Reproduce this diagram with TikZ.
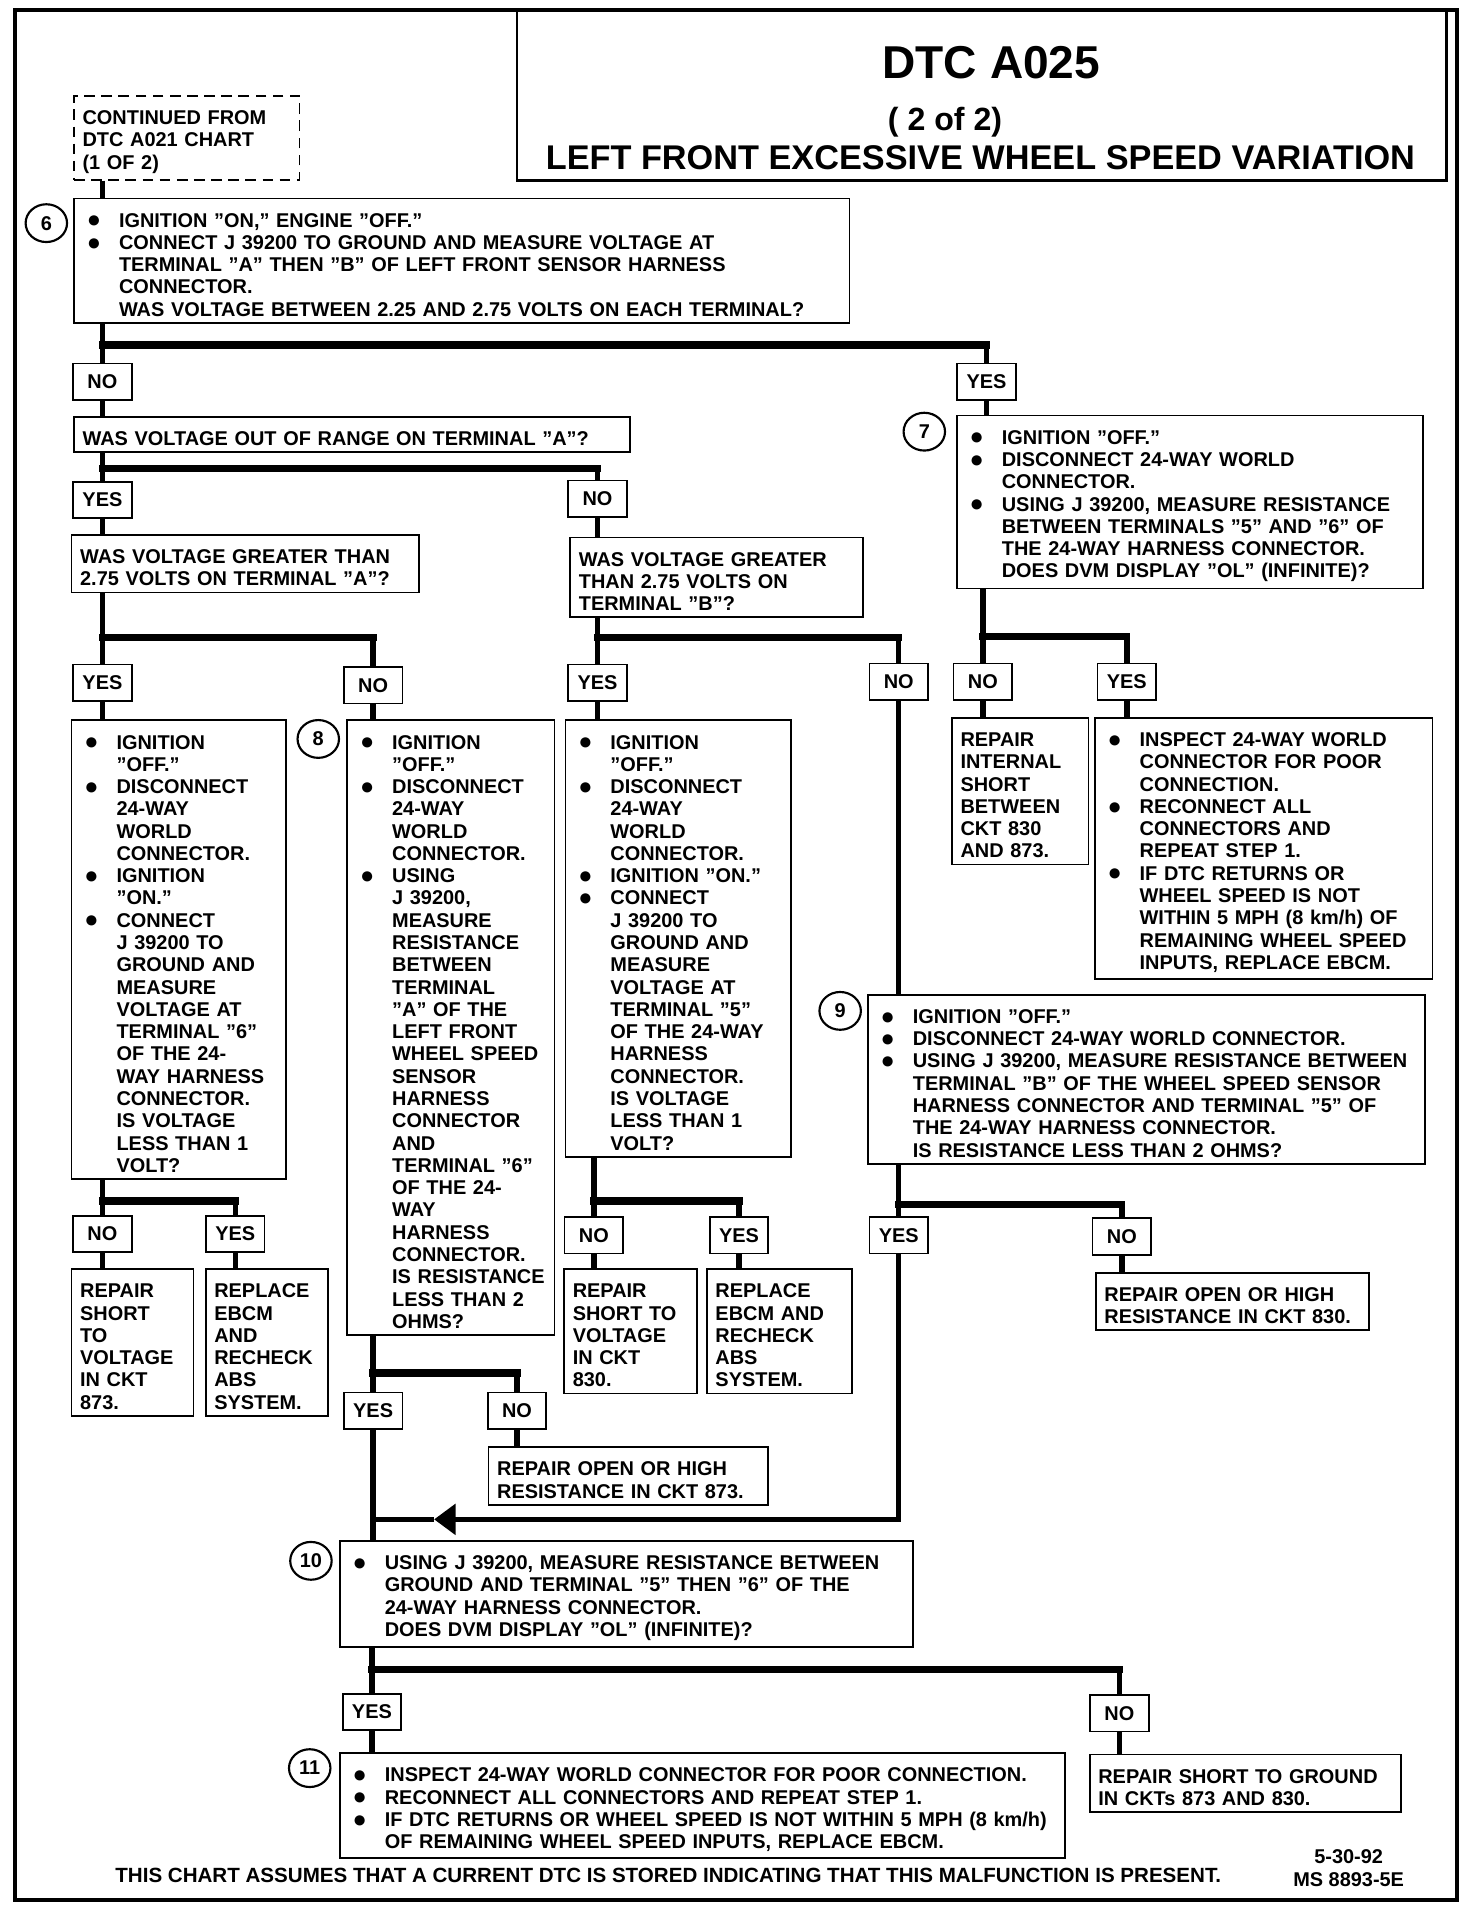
\documentclass[tikz,border=0pt]{standalone}
\usepackage{fontspec}
\setmainfont{Liberation Sans}
\usetikzlibrary{arrows.meta,shapes.geometric}

\newcommand{\chartfont}{\fontsize{9.3}{10.4}\selectfont\bfseries}
\newlength{\bind}
\setlength{\bind}{17pt}
\newcommand{\bulletmark}{\raisebox{-0.3pt}{\fontsize{11}{8}\selectfont ●}}
\newcommand{\bl}[1]{\par\noindent\hbox to\bind{\hskip2pt\bulletmark\hfil}\mbox{#1}}
\newcommand{\ct}[1]{\par\noindent\hskip\bind\mbox{#1}}
\newcommand{\pline}[1]{\par\noindent\mbox{#1}}

\tikzset{
  box/.style={draw, line width=0.8pt, anchor=north west, inner xsep=4pt, inner ysep=3pt, text width=#1, align=left, font=\chartfont},
  answer/.style={draw, line width=0.8pt, font=\chartfont, minimum height=0.6cm, minimum width=0.96cm, inner sep=0pt},
  stepno/.style={ellipse, draw, line width=1pt, minimum width=0.68cm, minimum height=0.62cm, inner sep=0pt, font=\chartfont},
  conn/.style={line width=2.6pt},
  bar/.style={line width=3.4pt, line cap=rect},
}

\begin{document}
\begin{tikzpicture}[x=0.02cm,y=-0.02cm]
\useasboundingbox (0,0) rectangle (1207,1568);

% frame and title
\draw[line width=1.9pt] (12,8) rectangle (1195,1558);
\draw[line width=1.2pt] (424,8) rectangle (1186,148);
\node (dtc) at (813,51) {\fontsize{21.5}{24}\selectfont\bfseries DTC A025};
\node (part) at (775,100) {\fontsize{15}{18}\selectfont\bfseries ( 2 of 2)};
\node (title) at (804,129) {\fontsize{16}{19}\selectfont\bfseries LEFT FRONT EXCESSIVE WHEEL SPEED VARIATION};

% boxes
\node[box=3.42cm, dash pattern=on 5pt off 3pt] (cont) at (60,78) {\pline{CONTINUED FROM}\pline{DTC A021 CHART}\pline{(1 OF 2)}};

\node[box=12.44cm] (s6) at (60,162) {\bl{IGNITION ”ON,” ENGINE ”OFF.”}
\bl{CONNECT J 39200 TO GROUND AND MEASURE VOLTAGE AT}
\ct{TERMINAL ”A” THEN ”B” OF LEFT FRONT SENSOR HARNESS}
\ct{CONNECTOR.}
\ct{WAS VOLTAGE BETWEEN 2.25 AND 2.75 VOLTS ON EACH TERMINAL?}};

\node[box=8.84cm] (qa) at (60,341) {\pline{WAS VOLTAGE OUT OF RANGE ON TERMINAL ”A”?}};

\node[box=7.36cm] (s7) at (784,340) {\bl{IGNITION ”OFF.”}
\bl{DISCONNECT 24-WAY WORLD}
\ct{CONNECTOR.}
\bl{USING J 39200, MEASURE RESISTANCE}
\ct{BETWEEN TERMINALS ”5” AND ”6” OF}
\ct{THE 24-WAY HARNESS CONNECTOR.}
\ct{DOES DVM DISPLAY ”OL” (INFINITE)?}};

\node[box=5.42cm] (qgta) at (58,438) {\pline{WAS VOLTAGE GREATER THAN}\pline{2.75 VOLTS ON TERMINAL ”A”?}};
\node[box=4.52cm] (qgtb) at (467,440) {\pline{WAS VOLTAGE GREATER}\pline{THAN 2.75 VOLTS ON}\pline{TERMINAL ”B”?}};

\node[box=3.24cm] (va) at (58,590) {\bl{IGNITION}
\ct{”OFF.”}
\bl{DISCONNECT}
\ct{24-WAY}
\ct{WORLD}
\ct{CONNECTOR.}
\bl{IGNITION}
\ct{”ON.”}
\bl{CONNECT}
\ct{J 39200 TO}
\ct{GROUND AND}
\ct{MEASURE}
\ct{VOLTAGE AT}
\ct{TERMINAL ”6”}
\ct{OF THE 24-}
\ct{WAY HARNESS}
\ct{CONNECTOR.}
\ct{IS VOLTAGE}
\ct{LESS THAN 1}
\ct{VOLT?}};

\node[box=3.12cm] (s8) at (284,590) {\bl{IGNITION}
\ct{”OFF.”}
\bl{DISCONNECT}
\ct{24-WAY}
\ct{WORLD}
\ct{CONNECTOR.}
\bl{USING}
\ct{J 39200,}
\ct{MEASURE}
\ct{RESISTANCE}
\ct{BETWEEN}
\ct{TERMINAL}
\ct{”A” OF THE}
\ct{LEFT FRONT}
\ct{WHEEL SPEED}
\ct{SENSOR}
\ct{HARNESS}
\ct{CONNECTOR}
\ct{AND}
\ct{TERMINAL ”6”}
\ct{OF THE 24-}
\ct{WAY}
\ct{HARNESS}
\ct{CONNECTOR.}
\ct{IS RESISTANCE}
\ct{LESS THAN 2}
\ct{OHMS?}};

\node[box=3.42cm] (vb) at (463,590) {\bl{IGNITION}
\ct{”OFF.”}
\bl{DISCONNECT}
\ct{24-WAY}
\ct{WORLD}
\ct{CONNECTOR.}
\bl{IGNITION ”ON.”}
\bl{CONNECT}
\ct{J 39200 TO}
\ct{GROUND AND}
\ct{MEASURE}
\ct{VOLTAGE AT}
\ct{TERMINAL ”5”}
\ct{OF THE 24-WAY}
\ct{HARNESS}
\ct{CONNECTOR.}
\ct{IS VOLTAGE}
\ct{LESS THAN 1}
\ct{VOLT?}};

\node[box=1.96cm] (rep7) at (780,588) {\pline{REPAIR}\pline{INTERNAL}\pline{SHORT}\pline{BETWEEN}\pline{CKT 830}\pline{AND 873.}};

\node[box=5.26cm] (ins7) at (897,588) {\bl{INSPECT 24-WAY WORLD}
\ct{CONNECTOR FOR POOR}
\ct{CONNECTION.}
\bl{RECONNECT ALL}
\ct{CONNECTORS AND}
\ct{REPEAT STEP 1.}
\bl{IF DTC RETURNS OR}
\ct{WHEEL SPEED IS NOT}
\ct{WITHIN 5 MPH (8 km/h) OF}
\ct{REMAINING WHEEL SPEED}
\ct{INPUTS, REPLACE EBCM.}};

\node[box=8.86cm] (s9) at (711,815) {\bl{IGNITION ”OFF.”}
\bl{DISCONNECT 24-WAY WORLD CONNECTOR.}
\bl{USING J 39200, MEASURE RESISTANCE BETWEEN}
\ct{TERMINAL ”B” OF THE WHEEL SPEED SENSOR}
\ct{HARNESS CONNECTOR AND TERMINAL ”5” OF}
\ct{THE 24-WAY HARNESS CONNECTOR.}
\ct{IS RESISTANCE LESS THAN 2 OHMS?}};

\node[box=1.72cm] (rva) at (58,1040) {\pline{REPAIR}\pline{SHORT}\pline{TO}\pline{VOLTAGE}\pline{IN CKT}\pline{873.}};
\node[box=1.72cm] (rpa) at (168,1040) {\pline{REPLACE}\pline{EBCM}\pline{AND}\pline{RECHECK}\pline{ABS}\pline{SYSTEM.}};
\node[box=1.90cm] (rvb) at (462,1040) {\pline{REPAIR}\pline{SHORT TO}\pline{VOLTAGE}\pline{IN CKT}\pline{830.}};
\node[box=2.10cm] (rpb) at (579,1040) {\pline{REPLACE}\pline{EBCM AND}\pline{RECHECK}\pline{ABS}\pline{SYSTEM.}};
\node[box=4.20cm] (r9) at (898,1043) {\pline{REPAIR OPEN OR HIGH}\pline{RESISTANCE IN CKT 830.}};
\node[box=4.30cm] (r8) at (400,1186) {\pline{REPAIR OPEN OR HIGH}\pline{RESISTANCE IN CKT 873.}};

\node[box=9.12cm] (s10) at (278,1263) {\bl{USING J 39200, MEASURE RESISTANCE BETWEEN}
\ct{GROUND AND TERMINAL ”5” THEN ”6” OF THE}
\ct{24-WAY HARNESS CONNECTOR.}
\ct{DOES DVM DISPLAY ”OL” (INFINITE)?}};

\node[box=11.62cm] (s11) at (278,1437) {\bl{INSPECT 24-WAY WORLD CONNECTOR FOR POOR CONNECTION.}
\bl{RECONNECT ALL CONNECTORS AND REPEAT STEP 1.}
\bl{IF DTC RETURNS OR WHEEL SPEED IS NOT WITHIN 5 MPH (8 km/h)}
\ct{OF REMAINING WHEEL SPEED INPUTS, REPLACE EBCM.}};

\node[box=4.82cm] (r10) at (893,1438) {\pline{REPAIR SHORT TO GROUND}\pline{IN CKTs 873 AND 830.}};

% step numbers
\node[stepno] (c6) at (38,183) {6};
\node[stepno] (c7) at (758,354) {7};
\node[stepno] (c8) at (261,606) {8};
\node[stepno] (c9) at (689,829) {9};
\node[stepno] (c10) at (255,1280) {10};
\node[stepno] (c11) at (254,1450) {11};

% answers
\node[answer] (no6) at (84,313) {NO};
\node[answer] (yes6) at (809,313) {YES};
\node[answer] (yesa) at (84,410) {YES};
\node[answer] (noa) at (490,409) {NO};
\node[answer] (yesg) at (84,560) {YES};
\node[answer] (nog) at (306,562) {NO};
\node[answer] (yesb) at (490,560) {YES};
\node[answer] (nob) at (737,559) {NO};
\node[answer] (no7) at (806,559) {NO};
\node[answer] (yes7) at (924,559) {YES};
\node[answer] (nova) at (84,1012) {NO};
\node[answer] (yesva) at (193,1012) {YES};
\node[answer] (novb) at (487,1013) {NO};
\node[answer] (yesvb) at (606,1013) {YES};
\node[answer] (yes9) at (737,1013) {YES};
\node[answer] (no9) at (920,1014) {NO};
\node[answer] (yes8) at (306,1157) {YES};
\node[answer] (no8) at (424,1157) {NO};
\node[answer] (yes10) at (305,1404) {YES};
\node[answer] (no10) at (918,1405) {NO};

% connectors
\draw[conn] (cont.south -| no6) -- (s6.north -| no6);
\foreach \q/\l/\r/\y in {s6/no6/yes6/283, qa/yesa/noa/384, qgta/yesg/nog/523, qgtb/yesb/nob/523,
    s7/no7/yes7/522, va/nova/yesva/985, vb/novb/yesvb/985, s9/yes9/no9/988,
    s8/yes8/no8/1126, s10/yes10/no10/1369}
{
  \draw[conn] (\q.south -| \l) -- (\l.north);
  \draw[bar] (\l |- 0,\y) -- (\r |- 0,\y);
  \draw[conn] (\r |- 0,\y) -- (\r.north);
}
\foreach \a/\b in {no6/qa, yes6/s7, yesa/qgta, noa/qgtb, yesg/va, nog/s8, yesb/vb, nob/s9,
    no7/rep7, yes7/ins7, nova/rva, yesva/rpa, novb/rvb, yesvb/rpb, no9/r9, no8/r8,
    yes8/s10, yes10/s11, no10/r10}
  \draw[conn] (\a.south) -- (\b.north -| \a);

\coordinate (tip) at (356,1246);
\draw[conn, -{Triangle[length=10pt, width=14pt]}] (yes9.south) |- (tip);
\draw[conn] (tip) -- (tip -| yes8);

% footer
\node[font=\fontsize{9.6}{10.4}\selectfont\bfseries] (note) at (548,1538) {THIS CHART ASSUMES THAT A CURRENT DTC IS STORED INDICATING THAT THIS MALFUNCTION IS PRESENT.};
\node[font=\chartfont, align=center] (code) at (1106,1532) {5-30-92\\MS 8893-5E};
\end{tikzpicture}
\end{document}
